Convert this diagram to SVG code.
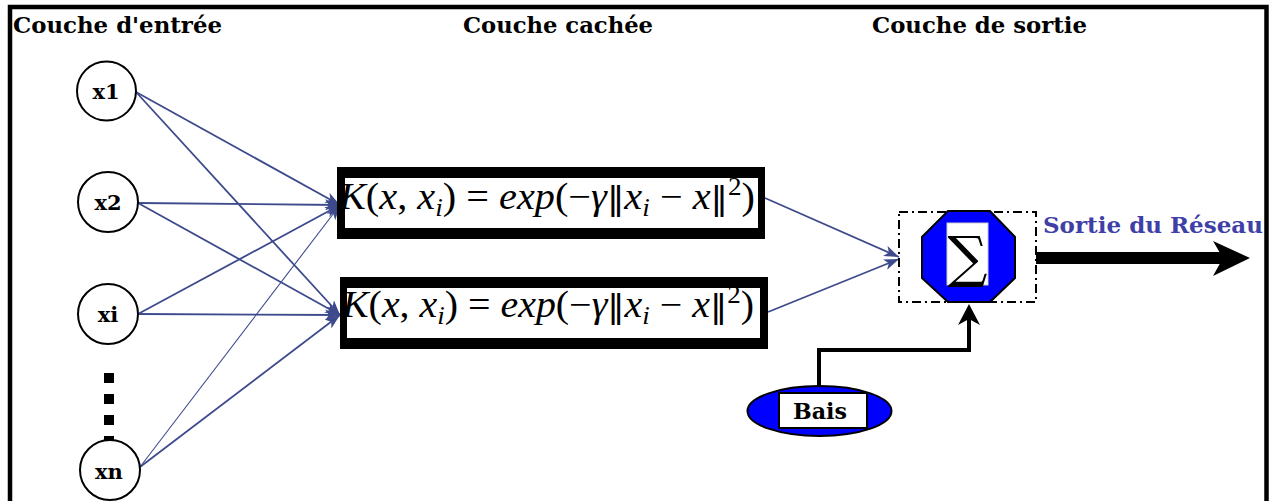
<svg xmlns="http://www.w3.org/2000/svg" width="1273" height="501" viewBox="0 0 1273 501">
  <style>
    .title { font-family: "DejaVu Serif", "Liberation Serif", serif; font-weight: bold; font-size: 23px; fill: #000; }
    .inp circle { fill: #fff; stroke: #000; stroke-width: 2; }
    .inp text { font-family: "DejaVu Serif", "Liberation Serif", serif; font-weight: bold; font-size: 21px; text-anchor: middle; fill: #000; }
    .math { font-family: "Liberation Serif", "DejaVu Serif", serif; font-size: 37px; fill: #000; }
    .it { font-style: italic; }
    .small { font-size: 25px; }
    .nrm { font-family: "DejaVu Sans", sans-serif; font-size: 32px; }
    .link { stroke: #3d4a8c; stroke-width: 1.8; fill: none; marker-end: url(#arr); }
    .thin { stroke-width: 1.1; }
    .blue { fill: #0000ff; stroke: #000; stroke-width: 2; }
  </style>
  <defs>
    <marker id="arr" viewBox="0 0 15 11" refX="15" refY="5.5" markerWidth="15" markerHeight="11" markerUnits="userSpaceOnUse" orient="auto">
      <path d="M0,0 L15,5.5 L0,11 L4,5.5 z" fill="#3d4a8c"/>
    </marker>
  </defs>

  <rect width="1273" height="501" fill="#fff"/>
  <!-- frame, open at the bottom -->
  <rect x="10" y="7" width="1256.5" height="540" fill="none" stroke="#000" stroke-width="4.5"/>

  <!-- layer titles -->
  <text class="title" x="13" y="33" textLength="209" lengthAdjust="spacingAndGlyphs">Couche d'entrée</text>
  <text class="title" x="463" y="33" textLength="190" lengthAdjust="spacingAndGlyphs">Couche cachée</text>
  <text class="title" x="872" y="33" textLength="215" lengthAdjust="spacingAndGlyphs">Couche de sortie</text>

  <!-- connectors -->
  <g id="connectors">
    <line class="link" x1="136" y1="92" x2="340" y2="205"/>
    <line class="link" x1="136" y1="92" x2="340" y2="315"/>
    <line class="link" x1="138" y1="203" x2="340" y2="205"/>
    <line class="link" x1="138" y1="203" x2="340" y2="315"/>
    <line class="link" x1="138" y1="314" x2="340" y2="205"/>
    <line class="link" x1="138" y1="314" x2="340" y2="315"/>
    <line class="link thin" x1="140" y1="467" x2="340" y2="205"/>
    <line class="link" x1="140" y1="467" x2="340" y2="315"/>
    <line class="link" x1="765" y1="198" x2="899" y2="257"/>
    <line class="link" x1="768" y1="312" x2="899" y2="259"/>
    <!-- network output -->
    <line x1="1036" y1="258" x2="1225" y2="258" stroke="#000" stroke-width="12"/>
    <polygon points="1250,258 1213,241 1223,258 1213,276" fill="#000"/>
    <!-- bias path -->
    <polyline points="819,387 819,350 969,350 969,318" fill="none" stroke="#000" stroke-width="4"/>
    <polygon points="969,304 980,325 969,319 958,325" fill="#000"/>
  </g>

  <!-- ellipsis between xi and xn -->
  <line x1="109" y1="373" x2="109" y2="450" stroke="#000" stroke-width="10" stroke-dasharray="10 11"/>

  <!-- input nodes -->
  <g id="x1" class="inp"><circle cx="106.5" cy="91" r="29.5"/><text x="106" y="99">x1</text></g>
  <g id="x2" class="inp"><circle cx="108" cy="202" r="30"/><text x="108" y="210">x2</text></g>
  <g id="xi" class="inp"><circle cx="108" cy="314" r="30"/><text x="108" y="322">xi</text></g>
  <g id="xn" class="inp"><circle cx="110" cy="470" r="30"/><text x="109" y="479">xn</text></g>

  <!-- hidden layer: gaussian kernels -->
  <g id="k1">
    <rect x="337" y="167" width="428" height="72" fill="#000"/>
    <rect x="345" y="178" width="413" height="50" fill="#fff"/>
    <text class="math" x="339" y="209" textLength="416" lengthAdjust="spacingAndGlyphs"><tspan class="it">K</tspan>(<tspan class="it">x</tspan>, <tspan class="it">x</tspan><tspan class="it small" dy="7">i</tspan><tspan dy="-7">) = </tspan><tspan class="it">exp</tspan>(−<tspan class="it">γ</tspan><tspan class="nrm">‖</tspan><tspan class="it">x</tspan><tspan class="it small" dy="7">i</tspan><tspan dy="-7"> − </tspan><tspan class="it">x</tspan><tspan class="nrm">‖</tspan><tspan class="small" dy="-14">2</tspan><tspan dy="14">)</tspan></text>
  </g>
  <g id="k2">
    <rect x="340" y="277" width="428" height="72" fill="#000"/>
    <rect x="347" y="288" width="413" height="50" fill="#fff"/>
    <text class="math" x="342" y="317" textLength="412" lengthAdjust="spacingAndGlyphs"><tspan class="it">K</tspan>(<tspan class="it">x</tspan>, <tspan class="it">x</tspan><tspan class="it small" dy="7">i</tspan><tspan dy="-7">) = </tspan><tspan class="it">exp</tspan>(−<tspan class="it">γ</tspan><tspan class="nrm">‖</tspan><tspan class="it">x</tspan><tspan class="it small" dy="7">i</tspan><tspan dy="-7"> − </tspan><tspan class="it">x</tspan><tspan class="nrm">‖</tspan><tspan class="small" dy="-14">2</tspan><tspan dy="14">)</tspan></text>
  </g>

  <!-- output summation unit -->
  <g id="sum">
    <rect x="899" y="212" width="137" height="90" fill="none" stroke="#000" stroke-width="2" stroke-dasharray="9 4 2 4"/>
    <polygon class="blue" points="948,211 990,211 1015,237 1015,278 990,302 948,302 922,278 922,237"/>
    <rect x="947" y="223" width="41" height="62" fill="#fff" stroke="#ccc" stroke-width="1"/>
    <text x="967.5" y="276" font-family="DejaVu Serif, serif" font-size="56" text-anchor="middle" fill="#000">∑</text>
  </g>
  <text x="1043" y="233" font-family="DejaVu Serif, serif" font-weight="bold" font-size="23" fill="#3f3fa8" textLength="220" lengthAdjust="spacingAndGlyphs">Sortie du Réseau</text>

  <!-- bias -->
  <g id="bias">
    <ellipse class="blue" cx="819.5" cy="411" rx="72" ry="25"/>
    <rect x="779" y="393" width="88" height="35" fill="#fff" stroke="#000" stroke-width="2"/>
    <text x="820" y="419" font-family="DejaVu Serif, serif" font-weight="bold" font-size="23" text-anchor="middle" fill="#000" textLength="54" lengthAdjust="spacingAndGlyphs">Bais</text>
  </g>
</svg>
